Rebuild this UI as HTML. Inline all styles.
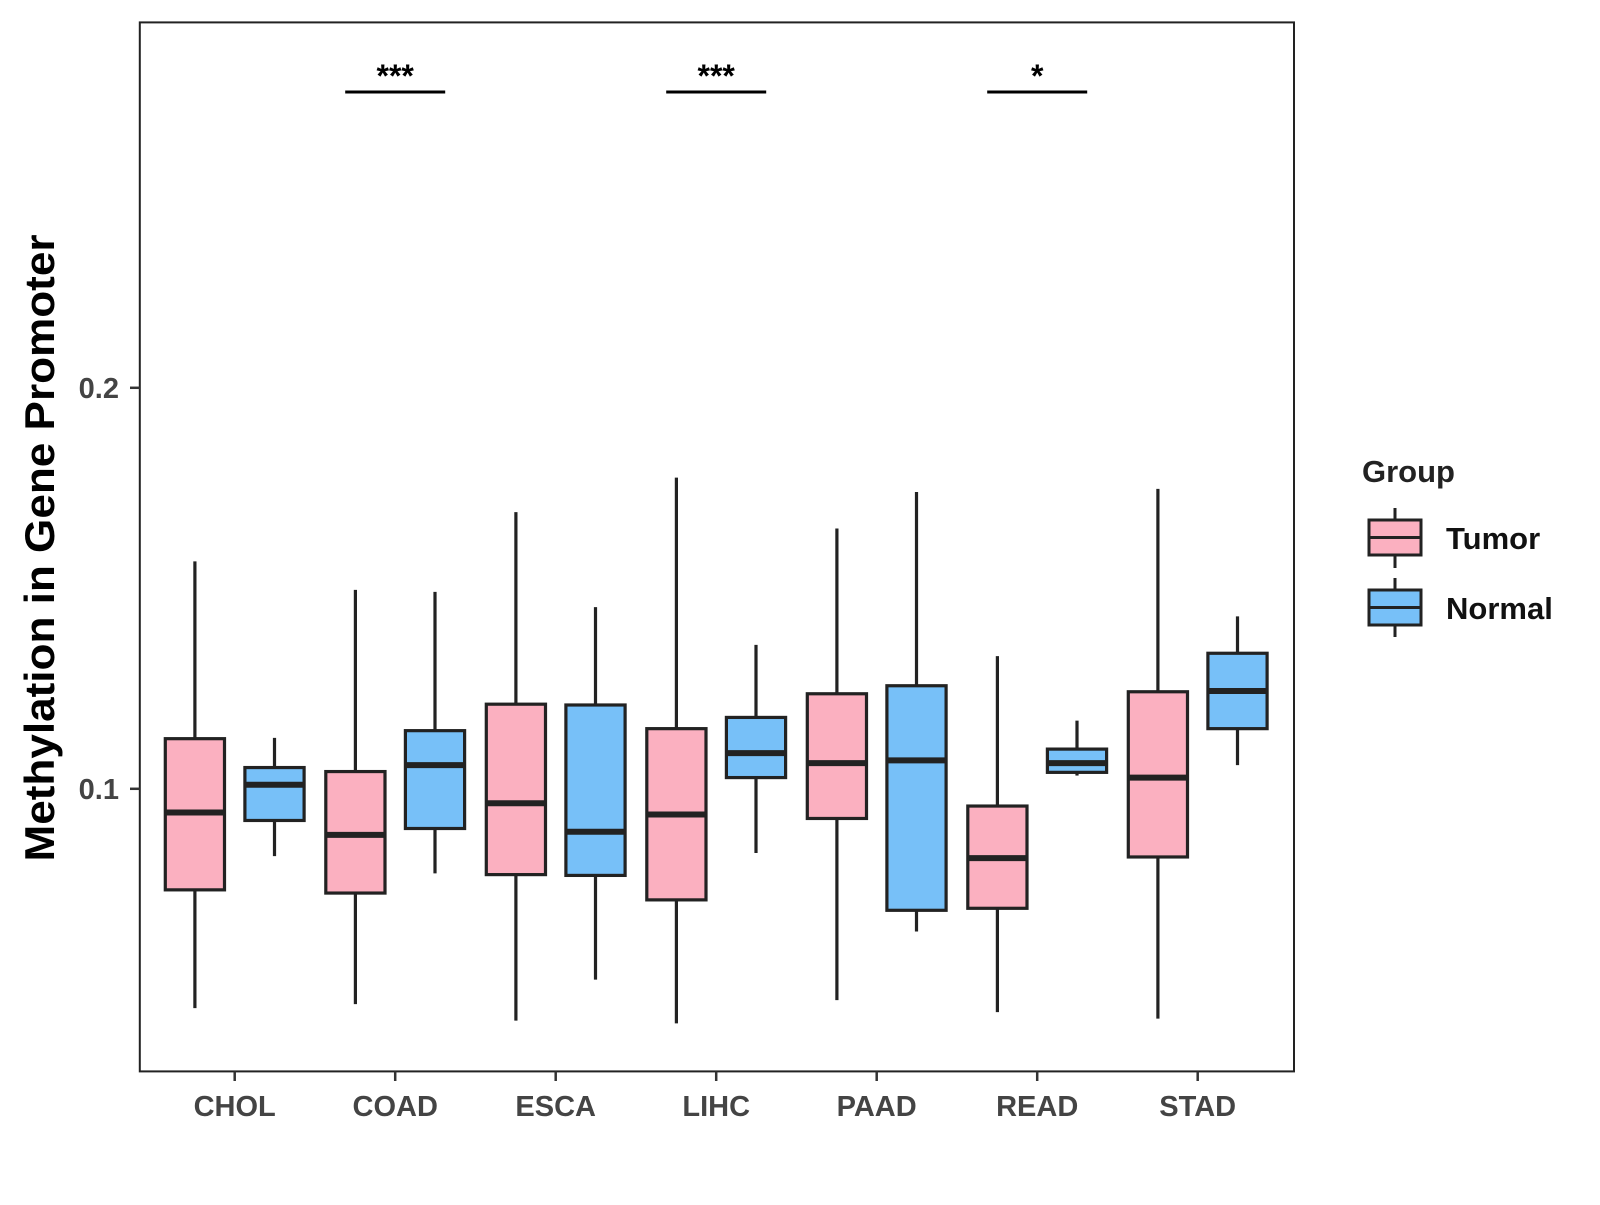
<!DOCTYPE html>
<html><head><meta charset="utf-8"><style>
html,body{margin:0;padding:0;background:#fff;}
svg text{font-family:"Liberation Sans",Arial,sans-serif;font-weight:bold;}
</style></head><body>
<svg id="chart" width="1600" height="1200" xmlns="http://www.w3.org/2000/svg">
<rect x="139.8" y="22.4" width="1154.2" height="1049" fill="#fff" stroke="#222" stroke-width="2"/>
<g id="boxes"></g>
<g id="axes"></g>
<text x="0" y="0" transform="translate(54,548) rotate(-90)" text-anchor="middle" font-size="42" textLength="627" lengthAdjust="spacingAndGlyphs" fill="#000">Methylation in Gene Promoter</text>
<g>
<text x="1362" y="482" font-size="31" fill="#222">Group</text>
<g>
<line x1="1395" y1="508" x2="1395" y2="568" stroke="#222" stroke-width="3"/>
<rect x="1369" y="520" width="52" height="35" fill="#FBB0C0" stroke="#222" stroke-width="3"/>
<line x1="1369" y1="537.5" x2="1421" y2="537.5" stroke="#222" stroke-width="3"/>
<text x="1446" y="549" font-size="31" fill="#111">Tumor</text>
</g>
<g>
<line x1="1395" y1="578" x2="1395" y2="637" stroke="#222" stroke-width="3"/>
<rect x="1369" y="590" width="52" height="35" fill="#77C0F8" stroke="#222" stroke-width="3"/>
<line x1="1369" y1="607.5" x2="1421" y2="607.5" stroke="#222" stroke-width="3"/>
<text x="1446" y="619" font-size="31" fill="#111">Normal</text>
</g>
</g>
</svg>
<script>
const categories=["CHOL","COAD","ESCA","LIHC","PAAD","READ","STAD"];
// [low, q1, median, q3, high]
const tumorStats=[
[0.0453,0.0748,0.0941,0.1125,0.1567],
[0.0463,0.0740,0.0885,0.1043,0.1496],
[0.0422,0.0786,0.0964,0.1211,0.1690],
[0.0415,0.0723,0.0936,0.1150,0.1776],
[0.0473,0.0926,0.1064,0.1237,0.1649],
[0.0443,0.0702,0.0827,0.0957,0.1331],
[0.0427,0.0830,0.1028,0.1242,0.1748]];
const normalStats=[
[0.0832,0.0921,0.1010,0.1053,0.1127],
[0.0789,0.0901,0.1059,0.1145,0.1491],
[0.0524,0.0784,0.0893,0.1209,0.1453],
[0.0840,0.1028,0.1089,0.1178,0.1359],
[0.0644,0.0697,0.1071,0.1257,0.1740],
[0.1033,0.1041,0.1064,0.1099,0.1170],
[0.1059,0.1150,0.1244,0.1338,0.1430]];
const yTicks=[0.1,0.2];
const sigCategories=["COAD","LIHC","READ"];
const sigLabels=["***","***","*"];

const NS="http://www.w3.org/2000/svg";
function y(v){return 788.8-(v-0.1)*4010;}
function x(i){return 234.7+i*160.5;}
function mk(tag,attrs,parent){const e=document.createElementNS(NS,tag);for(const k in attrs)e.setAttribute(k,attrs[k]);parent.appendChild(e);return e;}
const boxes=document.getElementById('boxes'),axes=document.getElementById('axes');
function drawBox(s,cx,fill,name){
  const g=mk('g',{},boxes);
  
  
  const w=59.2;
  mk('line',{x1:cx,x2:cx,y1:y(s[4]),y2:y(s[0]),stroke:'#222','stroke-width':3.2},g);
  mk('rect',{x:cx-w/2,y:y(s[3]),width:w,height:y(s[1])-y(s[3]),fill:fill,stroke:'#222','stroke-width':3.2},g);
  mk('line',{x1:cx-w/2,x2:cx+w/2,y1:y(s[2]),y2:y(s[2]),stroke:'#222','stroke-width':6},g);
}
categories.forEach((c,i)=>{
  drawBox(tumorStats[i],x(i)-39.8,'#FBB0C0','box-tumor-'+c.toLowerCase());
  drawBox(normalStats[i],x(i)+39.8,'#77C0F8','box-normal-'+c.toLowerCase());
  const t=mk('line',{x1:x(i),x2:x(i),y1:1071.4,y2:1081,stroke:'#333','stroke-width':2.5},axes);
  
  
  const l=mk('text',{x:x(i),y:1116,'text-anchor':'middle','font-size':29,fill:'#444'},axes);
  
  
  l.textContent=c;
});
yTicks.forEach(v=>{
  const t=mk('line',{x1:130,x2:139.8,y1:y(v),y2:y(v),stroke:'#333','stroke-width':2.5},axes);
  
  
  const l=mk('text',{x:119,y:y(v)+10,'text-anchor':'end','font-size':29,fill:'#444'},axes);
  
  
  l.textContent=v.toFixed(1);
});
sigCategories.forEach((c,k)=>{
  const i=categories.indexOf(c);
  const ln=mk('line',{x1:x(i)-50,x2:x(i)+50,y1:92,y2:92,stroke:'#000','stroke-width':3},axes);
  
  
  const t=mk('text',{x:x(i),y:87,'text-anchor':'middle','font-size':32,fill:'#000'},axes);
  
  
  t.textContent=sigLabels[k];
});
</script>
</body></html>
